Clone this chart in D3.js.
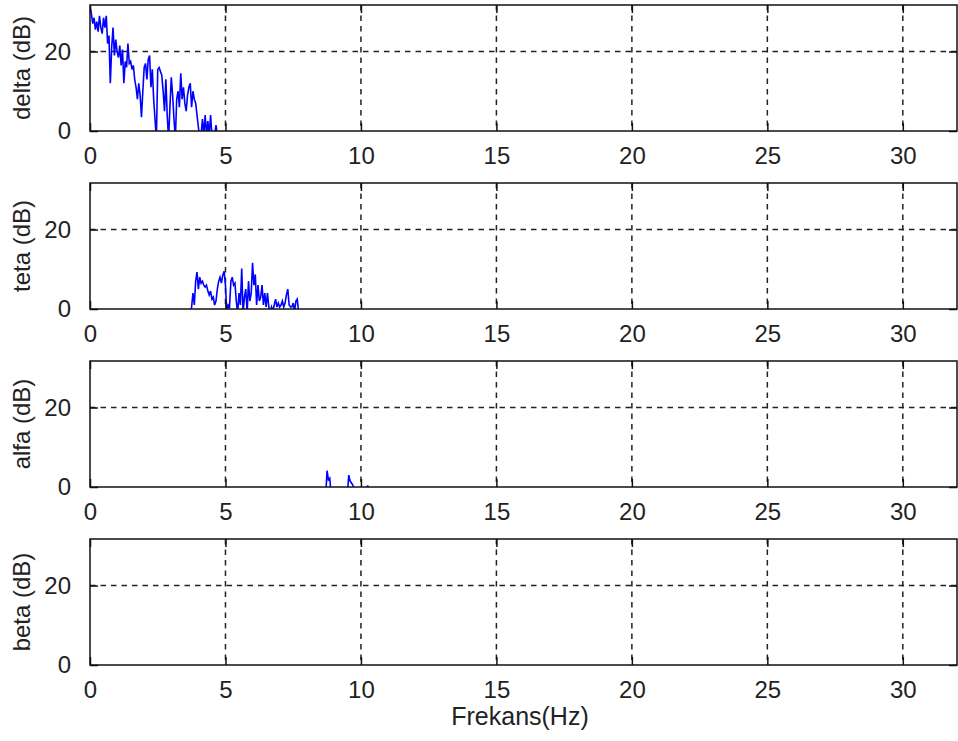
<!DOCTYPE html>
<html>
<head>
<meta charset="utf-8">
<script src="https://cdn.jsdelivr.net/npm/d3@7"></script>
<style>
  html, body { margin: 0; padding: 0; background: #fff; }
  svg { display: block; }
  text { font-family: "Liberation Sans", Arial, sans-serif; fill: #222; }
</style>
</head>
<body>
<svg id="chart" width="958" height="741"></svg>
<script>
// Band spectra (dB) sampled every 0.05 Hz, starting at each band's first bin.
const freqStep = 0.05;

const deltaStart = 0.0;
const deltaDb = [
  31.5, 29.5, 27, 28.5, 25.5, 27.5, 25, 29, 26, 24.5,
  28.5, 26, 29, 22, 24, 12, 21, 26, 19, 23,
  20, 18.5, 21.5, 16.5, 20.5, 12, 17.5, 16, 22, 17,
  17.5, 15.5, 16.5, 13, 11, 8, 12, 9, 3.5, 10,
  16, 17, 13, 18, 19, 11, 15.5, 8, 3, -2,
  15.5, 16, 15, 14, 10, 5, 13, 4, -2, 6,
  13.5, 9, 3, -2, 8, 10, 6, 14.5, 8, 11,
  7, 5, 9, 11, 12, 6, 10, 8, 7, 4,
  1, -2, -1, 3, -1, 4, -1, 2.5, -1, 4,
  -1, -2, -1, 1.5, -1
];

const tetaStart = 3.70;
const tetaDb = [
  -2,
  0.5, 4, 1, 7, 9.3, 5, 8, 6.5, 7, 6,
  5.5, 6, 4.5, 3.5, 4.5, 2.5, 3, 1, 2, 5,
  7, 8, 6.5, 8.5, 9.5, 6, -1, 1, 0.5, 7,
  8, 6, 6.5, 2, -1, 4, 1, 10.2, -1, 3,
  5, -1, 7, 2, 4, 11.6, 6, 8.7, 1, 6,
  2, 3, 6, 1, 4, 0.5, 4, 0.5, -1, 0.5,
  -0.5, 1, 2.5, 0.5, 1.5, 0.5, 1, 2, 0.5, 1.5,
  3.6, 5, 1, 0.5, 0.5, 1.5, -0.5, 2, 2.5, -1
];

const alfaStart = 8.70;
const alfaDb = [
  -2, 4.1, 1.8, 2.2, -2, null, null, null, null, null,
  null, null, null, null, null, null, -2, 3, 1.5, 1,
  0.5, -1, null, null, null, null, null, null, null, null,
  -1, 0.4, -1
];

const betaStart = 12.0;
const betaDb = [];

const bandNames = ["delta", "teta", "alfa", "beta"];
const bandStarts = [deltaStart, tetaStart, alfaStart, betaStart];
const bandValues = [deltaDb, tetaDb, alfaDb, betaDb];

const xTicks = [0, 5, 10, 15, 20, 25, 30];
const yTicks = [0, 20];
const xDomain = [0, 32];
const yDomain = [0, 31.7];
const xLabel = "Frekans(Hz)";

// Layout
const left = 90, right = 957;
const panelTops = [5, 183, 361, 539];
const panelH = 126;
const tickLen = 8;
const fontSize = 24;

const svg = d3.select("#chart");
const x = d3.scaleLinear().domain(xDomain).range([left, right]);

bandNames.forEach((name, i) => {
  const top = panelTops[i];
  const bottom = top + panelH;
  const y = d3.scaleLinear().domain(yDomain).range([bottom, top]);
  const g = svg.append("g");

  g.append("clipPath").attr("id", "clip" + i)
    .append("rect").attr("x", left).attr("y", top)
    .attr("width", right - left).attr("height", panelH);

  // dotted grid
  const grid = g.append("g").attr("stroke", "#222").attr("stroke-width", 1.5)
    .attr("stroke-dasharray", "5.5,5");
  grid.selectAll("line.vx").data(xTicks.filter(t => t > xDomain[0])).join("line")
    .attr("x1", d => x(d)).attr("x2", d => x(d))
    .attr("y1", top).attr("y2", bottom);
  grid.selectAll("line.hy").data(yTicks.filter(t => t > yDomain[0])).join("line")
    .attr("x1", left).attr("x2", right)
    .attr("y1", d => y(d)).attr("y2", d => y(d));

  // spectrum trace
  const pts = bandValues[i].map((v, k) => ({ f: bandStarts[i] + k * freqStep, v }));
  const line = d3.line()
    .defined(d => d.v !== null)
    .x(d => x(d.f)).y(d => y(d.v));
  if (pts.length) {
    g.append("path").datum(pts)
      .attr("clip-path", `url(#clip${i})`)
      .attr("fill", "none").attr("stroke", "#0000ff").attr("stroke-width", 1.6)
      .attr("stroke-linejoin", "miter")
      .attr("d", line);
  }

  // axes: bottom, top (ticks only), left, right (ticks only)
  const xAxisB = d3.axisBottom(x).tickValues(xTicks).tickSizeInner(-tickLen).tickSizeOuter(0).tickPadding(tickLen + 8);
  const xAxisT = d3.axisTop(x).tickValues(xTicks).tickSizeInner(-tickLen).tickSizeOuter(0).tickFormat("");
  const yAxisL = d3.axisLeft(y).tickValues(yTicks).tickSizeInner(-tickLen).tickSizeOuter(0).tickPadding(tickLen + 11);
  const yAxisR = d3.axisRight(y).tickValues(yTicks).tickSizeInner(-tickLen).tickSizeOuter(0).tickFormat("");

  const ax = [
    g.append("g").attr("transform", `translate(0,${bottom})`).call(xAxisB),
    g.append("g").attr("transform", `translate(0,${top})`).call(xAxisT),
    g.append("g").attr("transform", `translate(${left},0)`).call(yAxisL),
    g.append("g").attr("transform", `translate(${right},0)`).call(yAxisR)
  ];
  ax.forEach(a => {
    a.select(".domain").remove();
    a.selectAll("line").attr("stroke", "#111").attr("stroke-width", 1.5);
    a.selectAll("text").attr("font-size", fontSize).attr("fill", "#222")
      .style("font-family", '"Liberation Sans", Arial, sans-serif');
  });

  // frame
  g.append("rect").attr("x", left).attr("y", top)
    .attr("width", right - left).attr("height", panelH)
    .attr("fill", "none").attr("stroke", "#111").attr("stroke-width", 1.5);

  // y label
  g.append("text")
    .attr("transform", `translate(29.5,${top + panelH / 2}) rotate(-90)`)
    .attr("text-anchor", "middle")
    .attr("font-size", fontSize)
    .text(`${name} (dB)`);
});

svg.append("text")
  .attr("x", 520).attr("y", 725)
  .attr("text-anchor", "middle")
  .attr("font-size", 25)
  .text(xLabel);
</script>
</body>
</html>
